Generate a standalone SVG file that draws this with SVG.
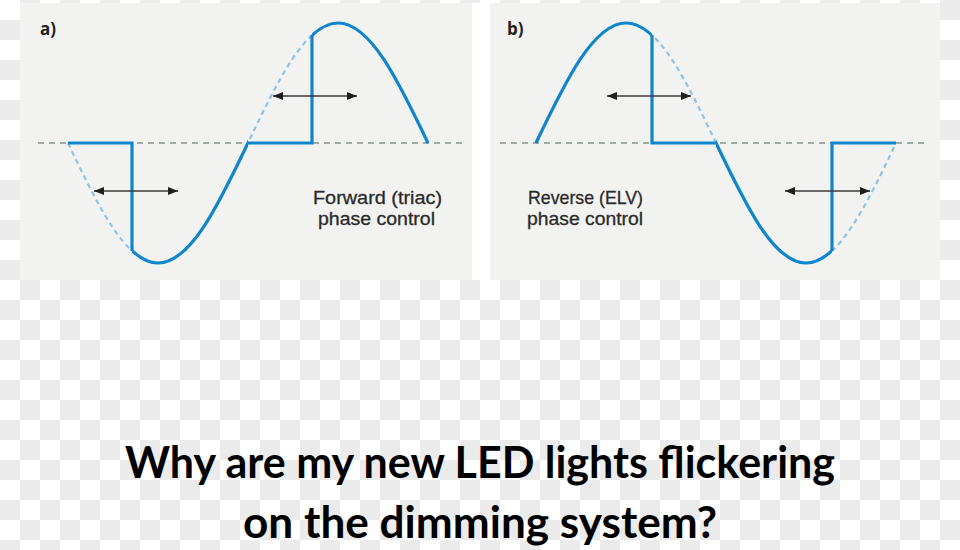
<svg xmlns="http://www.w3.org/2000/svg" xmlns:xlink="http://www.w3.org/1999/xlink" width="960" height="550" viewBox="0 0 960 550">
  <defs>
    <pattern id="checker" width="40" height="40" patternUnits="userSpaceOnUse">
      <rect width="40" height="40" fill="#ffffff"/>
      <rect x="20" y="0" width="20" height="20" fill="#ebebeb"/>
      <rect x="0" y="20" width="20" height="20" fill="#ebebeb"/>
    </pattern>
    <marker id="head" viewBox="0 0 10 8" refX="10" refY="4" markerWidth="10" markerHeight="8" markerUnits="userSpaceOnUse" orient="auto-start-reverse">
      <path d="M0,0 L10,4 L0,8 Z" fill="#1e1e1e"/>
    </marker>
    <path id="sineA" d="M68,143 C97.35,204.5 125.43,263 158,263 C190.57,263 218.65,204.5 248,143 C277.35,81.5 305.43,23 338,23 C370.57,23 398.65,81.5 428,143"/>
    <path id="sineB" d="M536,143 C565.35,81.5 593.43,23 626,23 C658.57,23 686.65,81.5 716,143 C745.35,204.5 773.43,263 806,263 C838.57,263 866.65,204.5 896,143"/>
    <clipPath id="clipAsolid">
      <rect x="132" y="0" width="116" height="290"/>
      <rect x="312" y="0" width="120" height="290"/>
    </clipPath>
    <clipPath id="clipAdash">
      <rect x="60" y="0" width="72" height="290"/>
      <rect x="248" y="0" width="64" height="290"/>
    </clipPath>
    <clipPath id="clipBsolid">
      <rect x="530" y="0" width="122" height="290"/>
      <rect x="716" y="0" width="116" height="290"/>
    </clipPath>
    <clipPath id="clipBdash">
      <rect x="652" y="0" width="64" height="290"/>
      <rect x="832" y="0" width="70" height="290"/>
    </clipPath>
  </defs>
  <style>
    .panel { fill: #f2f3f1; }
    .axis { fill: none; stroke: #a2aaa6; stroke-width: 2; stroke-dasharray: 6 5; }
    .wave { fill: none; stroke: #0f85cc; stroke-width: 3.2; stroke-linejoin: miter; }
    .ghost { fill: none; stroke: #8fc2e8; stroke-width: 2.2; stroke-dasharray: 5 4; }
    .arrow { fill: none; stroke: #3a3a3a; stroke-width: 1.5; marker-start: url(#head); marker-end: url(#head); }
    .lbl { font-family: "Liberation Sans", Arial, sans-serif; font-size: 18.5px; fill: #2a2a2a; stroke: #2a2a2a; stroke-width: 0.3; }
    .tag { font-family: "Open Sans", "Noto Sans", "Liberation Sans", sans-serif; font-size: 17px; font-weight: bold; fill: #222222; }
    .title { font-family: Lato, "Open Sans", "Liberation Sans", sans-serif; font-size: 44px; font-weight: bold; fill: #000000; }
  </style>

  <rect x="0" y="0" width="960" height="550" fill="url(#checker)"/>
  <rect x="20" y="3" width="920" height="277" fill="#ffffff"/>

  <g id="panel-a">
    <rect class="panel" x="20" y="3" width="452" height="277"/>
    <line class="axis" x1="38" y1="143" x2="463" y2="143"/>
    <use xlink:href="#sineA" class="ghost" clip-path="url(#clipAdash)"/>
    <use xlink:href="#sineA" class="wave" clip-path="url(#clipAsolid)"/>
    <path class="wave" d="M68,143 H132 V251"/>
    <path class="wave" d="M248,143 H312 V35"/>
    <text class="tag" x="40" y="35">a)</text>
    <text class="lbl" x="313" y="204" textLength="129" lengthAdjust="spacingAndGlyphs">Forward (triac)</text>
    <text class="lbl" x="318" y="225" textLength="117" lengthAdjust="spacingAndGlyphs">phase control</text>
  </g>

  <g id="panel-b">
    <rect class="panel" x="490" y="3" width="450" height="277"/>
    <line class="axis" x1="500" y1="143" x2="927" y2="143"/>
    <use xlink:href="#sineB" class="ghost" clip-path="url(#clipBdash)"/>
    <use xlink:href="#sineB" class="wave" clip-path="url(#clipBsolid)"/>
    <path class="wave" d="M652,35 V143 H716"/>
    <path class="wave" d="M832,251 V143 H896"/>
    <text class="tag" x="507" y="35">b)</text>
    <text class="lbl" x="528" y="204" textLength="115" lengthAdjust="spacingAndGlyphs">Reverse (ELV)</text>
    <text class="lbl" x="527" y="225" textLength="116" lengthAdjust="spacingAndGlyphs">phase control</text>
  </g>

  <g id="connectors">
    <line class="arrow" x1="94" y1="191" x2="178" y2="191"/>
    <line class="arrow" x1="273" y1="96" x2="357" y2="96"/>
    <line class="arrow" x1="607" y1="96" x2="691" y2="96"/>
    <line class="arrow" x1="785" y1="191" x2="870" y2="191"/>
  </g>

  <g id="title">
    <text class="title" x="480" y="478" text-anchor="middle" textLength="710" lengthAdjust="spacingAndGlyphs">Why are my new LED lights flickering</text>
    <text class="title" x="480" y="538" text-anchor="middle" textLength="474" lengthAdjust="spacingAndGlyphs">on the dimming system?</text>
  </g>
</svg>
